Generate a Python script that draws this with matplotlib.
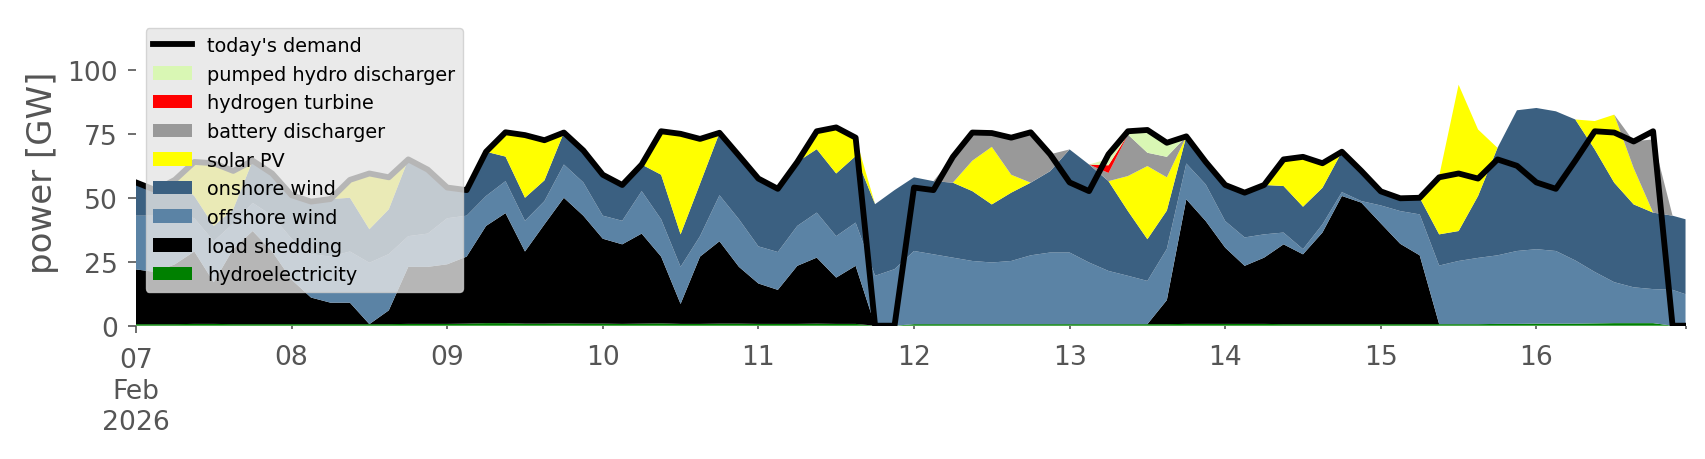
import matplotlib
matplotlib.use("Agg")
import matplotlib.pyplot as plt
from matplotlib.patches import Patch
from matplotlib.lines import Line2D
import pandas as pd

# 3-hourly snapshots, plus the last hour of the window
times = pd.date_range("2026-02-07 00:00", "2026-02-16 21:00", freq="3h").append(
    pd.DatetimeIndex(["2026-02-16 23:00"]))

# generation per carrier [GW], one row per day
hydro = [0.6, 0.6, 0.6, 0.7, 0.7, 0.6, 0.6, 0.6,
         0.6, 0.6, 0.6, 0.6, 0.6, 0.6, 0.7, 0.7,
         0.7, 0.8, 1.0, 1.0, 0.8, 0.8, 0.9, 0.8,
         0.8, 0.7, 0.8, 0.9, 0.7, 0.7, 0.8, 0.8,
         0.7, 0.7, 0.7, 0.8, 0.7, 0.7, 0.0, 0.0,
         0.6, 0.6, 0.6, 0.6, 0.6, 0.6, 0.6, 0.6,
         0.6, 0.6, 0.6, 0.6, 0.6, 0.6, 0.7, 0.7,
         0.7, 0.7, 0.7, 0.6, 0.6, 0.6, 0.6, 0.6,
         0.6, 0.6, 0.6, 0.6, 0.6, 0.6, 0.7, 0.7,
         0.8, 0.8, 0.8, 0.9, 1.0, 1.0, 1.0, 0.0, 0.0]

load_shedding = [21.4, 20.4, 23.4, 28.3, 16.3, 29.4, 36.4, 28.4,
                 17.4, 10.4, 8.4, 8.4, 0.0, 5.4, 22.3, 22.3,
                 23.3, 26.2, 38.0, 43.0, 28.2, 38.8, 49.1, 42.2,
                 33.2, 31.1, 35.2, 26.1, 7.8, 26.3, 32.2, 22.2,
                 15.8, 13.3, 22.7, 25.8, 18.1, 22.7, 0.0, 0.0,
                 0.0, 0.0, 0.0, 0.0, 0.0, 0.0, 0.0, 0.0,
                 0.0, 0.0, 0.0, 0.0, 0.0, 9.4, 48.7, 40.2,
                 29.8, 22.7, 25.9, 31.2, 27.3, 35.8, 50.1, 47.5,
                 39.4, 31.4, 26.9, 0.0, 0.0, 0.0, 0.0, 0.0,
                 0.0, 0.0, 0.0, 0.0, 0.0, 0.0, 0.0, 0.0, 0.0]

offshore_wind = [21, 22, 20, 13, 16, 10, 11, 14,
                 16, 17, 18, 20, 24, 22, 12, 13,
                 18, 16, 11.7, 12.5, 12, 9.1, 13, 13,
                 9, 9.2, 16.6, 14.6, 14.5, 8, 18, 18.6,
                 14.5, 14.8, 15.6, 17.6, 16.2, 16.9, 19.5, 22.1,
                 28.6, 27.3, 26, 24.7, 24.1, 24.7, 26.9, 28,
                 28, 24.1, 20.8, 18.9, 16.9, 20, 14, 14.3,
                 10.4, 11.1, 9.1, 4.6, 2, 3.2, 1.5, 0.6,
                 7, 12.8, 16, 22.9, 24.7, 25.9, 26.8, 28.5,
                 29.1, 28.4, 24.7, 20.1, 16, 14, 13.3, 14, 12.3]

onshore_wind = [13, 10, 13, 8.7, 6, 5.5, 16.5, 16.5,
                17, 20.5, 22.5, 21, 13.1, 17.5, 30, 25,
                12, 10, 17.3, 9.6, 9, 8.1, 12.5, 12.5,
                16, 14, 10.4, 17.4, 12.7, 20.5, 24.4, 24.9,
                26.5, 24.7, 25, 24.8, 24.5, 26, 28, 30.9,
                28.8, 28.6, 29.3, 27.3, 22.7, 26.7, 28.4, 31.8,
                40.3, 38.3, 35.1, 25.3, 16.3, 15, 10.6, 8.8,
                14.1, 17.5, 19.3, 18.2, 16.6, 14.3, 15.8, 11.8,
                5.5, 5, 6.5, 12.2, 11.7, 24.2, 42, 55,
                55.2, 54.6, 55.1, 47.9, 38.9, 32.4, 29.9, 29, 29.3]

solar_pv = [0, 0, 0, 13.3, 24.5, 15, 0, 0,
            0, 0, 0, 7, 21.8, 12.5, 0, 0,
            0, 0, 0, 9.5, 24.5, 15.7, 0, 0,
            0, 0, 0, 17, 39.3, 17.5, 0, 0,
            0, 0, 0, 7, 18, 7.2, 0, 0,
            0, 0, 0, 11.9, 22.5, 7, 0, 0,
            0, 0, 0, 13.7, 28.6, 13, 0, 0,
            0, 0, 0, 10.4, 19.5, 9.6, 0, 0,
            0, 0, 0, 22.8, 57.2, 26, 0, 0,
            0, 0, 0, 11.1, 26.6, 14.2, 0, 0, 0]

battery_discharger = [0, 0, 0, 0, 0, 0, 0, 0,
                      0, 0, 0, 0, 0, 0, 0, 0,
                      0, 0, 0, 0, 0, 0, 0, 0,
                      0, 0, 0, 0, 0, 0, 0, 0,
                      0, 0, 0, 0, 0, 0, 0, 0,
                      0, 0, 10, 11, 5.4, 14.4, 19.7, 6.6,
                      0, 0, 3.2, 16.2, 5.2, 8, 0, 0,
                      0, 0, 0, 0, 0, 0, 0, 0,
                      0, 0, 0, 0, 0, 0, 0, 0,
                      0, 0, 0, 0, 0, 10.5, 28.6, 0, 0]

hydrogen_turbine = [0] * 50 + [3] + [0] * 30

pumped_hydro = [0] * 50 + [2.5, 1, 8.9, 5.5] + [0] * 27

demand = [56, 53, 57, 64, 63.5, 60.5, 64.5, 59.5,
          51, 48.5, 49.5, 57, 59.5, 58, 65, 61,
          54, 53, 68, 75.6, 74.5, 72.5, 75.5, 68.5,
          59, 55, 63, 76, 75, 73, 75.4, 66.5,
          57.5, 53.5, 64, 76, 77.5, 73.5, 0, 0,
          54, 53, 66, 75.5, 75.3, 73.5, 75.6, 67,
          56, 52.6, 67, 76, 76.5, 71.5, 74, 64,
          55, 52, 55, 65, 66, 63.5, 68, 60.5,
          52.5, 49.8, 50, 58, 59.5, 57.5, 65, 62.5,
          56, 53.5, 64.5, 76, 75.5, 72, 76, 0, 0]

carriers = ["hydroelectricity", "load shedding", "offshore wind", "onshore wind",
            "solar PV", "battery discharger", "hydrogen turbine", "pumped hydro discharger"]
colors = ["#008000", "#000000", "#5b83a5", "#3b6081",
          "#ffff00", "#999999", "#ff0000", "#d9f7b4"]
series = [hydro, load_shedding, offshore_wind, onshore_wind,
          solar_pv, battery_discharger, hydrogen_turbine, pumped_hydro]

grey = "#555555"

fig = plt.figure(figsize=(17.06, 4.6), dpi=100)
ax = fig.add_axes([0.0797, 0.2898, 0.9083, 0.6674])

ax.stackplot(times, *series, colors=colors, linewidth=0)
ax.plot(times, demand, color="black", lw=4.2)

ax.set_xlim(times[0], times[-1])
ax.set_ylim(0, 120)

for s in ax.spines.values():
    s.set_visible(False)

days = pd.date_range("2026-02-07", "2026-02-16", freq="D")
ax.set_xticks([days[0]])
ax.set_xticklabels(["07\nFeb\n2026"], linespacing=1.25)
ax.set_xticks(list(days[1:]) + [times[-1]], minor=True)
ax.set_xticklabels([d.strftime("%d") for d in days[1:]] + [""], minor=True)
ax.set_yticks([0, 25, 50, 75, 100])

ax.tick_params(axis="x", which="major", length=5, width=1.2, color=grey,
               labelcolor=grey, labelsize=19.2, pad=10.5)
ax.tick_params(axis="x", which="minor", length=2.5, width=1.2, color=grey,
               labelcolor=grey, labelsize=19.2, pad=10.5)
ax.tick_params(axis="y", length=6, width=1.2, color=grey,
               labelcolor=grey, labelsize=19.2, pad=7)
ax.set_ylabel("power [GW]", fontsize=24.5, color=grey, labelpad=6)

handles = [Line2D([0], [0], color="black", lw=4.2)]
labels = ["today's demand"]
for name, c in zip(carriers[::-1], colors[::-1]):
    handles.append(Patch(facecolor=c, edgecolor="none"))
    labels.append(name)

leg = ax.legend(handles, labels, loc="upper left", fontsize=13.9,
                labelspacing=0.5, facecolor="#e5e5e5", edgecolor="#cccccc",
                framealpha=0.8)

fig.savefig("out.png", dpi=100)
